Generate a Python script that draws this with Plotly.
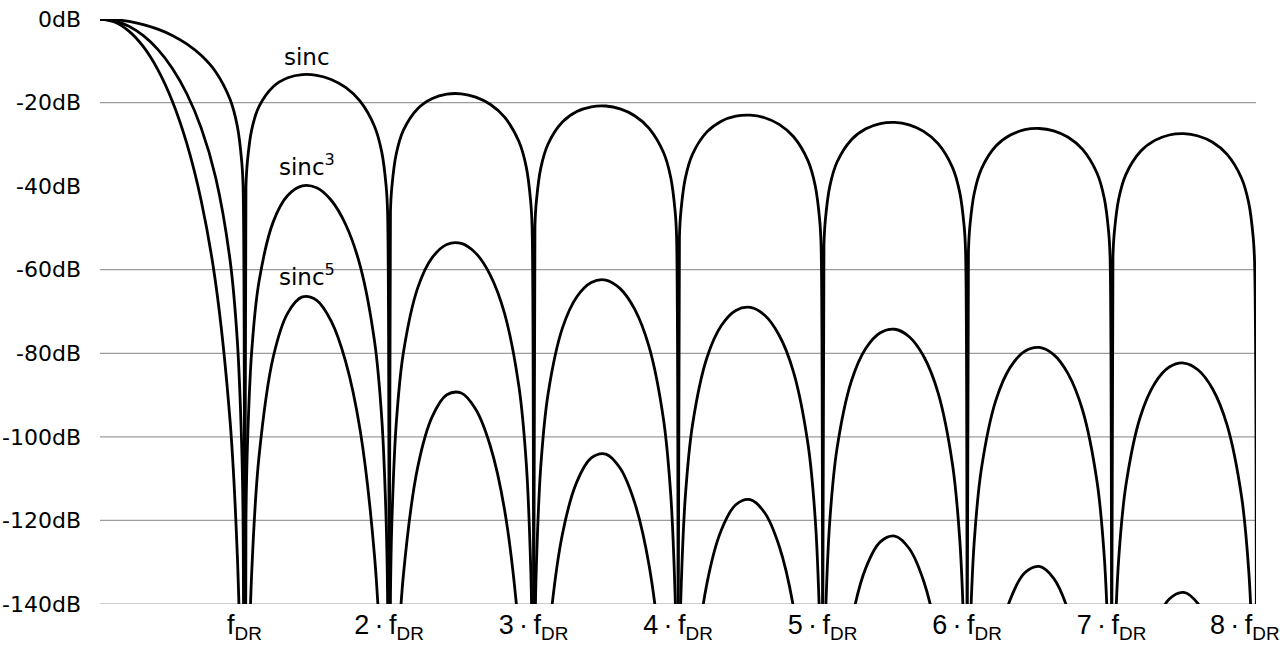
import plotly.graph_objects as go

# frequency in units of f_DR
X = [0, 0.1, 0.2, 0.3, 0.4, 0.5, 0.6, 0.7, 0.8, 0.9, 0.95, 0.98, 0.99, 1.0,
     1.01, 1.02, 1.05, 1.1, 1.2, 1.3, 1.4, 1.5, 1.6, 1.7, 1.8, 1.9, 1.95, 1.98, 1.99, 2.0,
     2.01, 2.02, 2.05, 2.1, 2.2, 2.3, 2.4, 2.5, 2.6, 2.7, 2.8, 2.9, 2.95, 2.98, 2.99, 3.0,
     3.01, 3.02, 3.05, 3.1, 3.2, 3.3, 3.4, 3.5, 3.6, 3.7, 3.8, 3.9, 3.95, 3.98, 3.99, 4.0,
     4.01, 4.02, 4.05, 4.1, 4.2, 4.3, 4.4, 4.5, 4.6, 4.7, 4.8, 4.9, 4.95, 4.98, 4.99, 5.0,
     5.01, 5.02, 5.05, 5.1, 5.2, 5.3, 5.4, 5.5, 5.6, 5.7, 5.8, 5.9, 5.95, 5.98, 5.99, 6.0,
     6.01, 6.02, 6.05, 6.1, 6.2, 6.3, 6.4, 6.5, 6.6, 6.7, 6.8, 6.9, 6.95, 6.98, 6.99, 7.0,
     7.01, 7.02, 7.05, 7.1, 7.2, 7.3, 7.4, 7.5, 7.6, 7.7, 7.8, 7.9, 7.95, 7.98, 7.99, 8.0]

# magnitude in dB (values below -140 dB fall off the chart)
SINC1 = [0, -0.14, -0.58, -1.33, -2.42, -3.92, -5.94, -8.69, -12.62, -19.23, -25.61, -33.81, -39.91, -300,
         -40.09, -34.16, -26.48, -20.97, -16.14, -14.06, -13.30, -13.47, -14.46, -16.39, -19.67, -25.72, -31.86, -39.92, -45.98, -300,
         -46.07, -40.09, -32.29, -26.59, -21.41, -19.02, -17.98, -17.90, -18.68, -20.41, -23.50, -29.39, -35.45, -43.47, -49.51, -300,
         -49.57, -43.59, -35.74, -29.97, -24.66, -22.15, -21.01, -20.82, -21.51, -23.15, -26.16, -31.96, -37.99, -45.98, -52.02, -300,
         -52.06, -46.07, -38.21, -32.40, -27.02, -24.45, -23.25, -23.01, -23.63, -25.23, -28.18, -33.95, -39.95, -47.93, -53.96, -300,
         -54.00, -48.00, -40.12, -34.29, -28.88, -26.27, -25.03, -24.75, -25.34, -26.90, -29.83, -35.56, -41.55, -49.52, -55.55, -300,
         -55.58, -49.58, -41.69, -35.85, -30.41, -27.77, -26.50, -26.20, -26.77, -28.31, -31.21, -36.92, -42.90, -50.86, -56.89, -300,
         -56.92, -50.91, -43.02, -37.17, -31.71, -29.05, -27.76, -27.44, -28.00, -29.51, -32.40, -38.10, -44.06, -52.03, -58.05, -300]

SINC3 = [0, -0.43, -1.74, -3.98, -7.26, -11.77, -17.83, -26.06, -37.86, -57.68, -76.83, -101.43, -119.74, -300,
         -120.26, -102.47, -79.44, -62.91, -48.43, -42.19, -39.91, -40.40, -43.38, -49.18, -59.00, -77.15, -95.57, -119.75, -137.93, -300,
         -138.20, -120.28, -96.87, -79.76, -64.22, -57.06, -53.95, -53.71, -56.03, -61.23, -70.51, -88.17, -106.36, -130.41, -148.54, -300,
         -148.72, -130.76, -107.23, -89.91, -73.99, -66.46, -63.03, -62.47, -64.52, -69.44, -78.47, -95.89, -113.96, -137.95, -156.06, -300,
         -156.19, -138.21, -114.62, -97.20, -81.07, -73.36, -69.74, -69.02, -70.90, -75.68, -84.55, -101.84, -119.84, -143.79, -161.89, -300,
         -161.99, -144.00, -120.37, -102.88, -86.64, -78.81, -75.08, -74.25, -76.03, -80.71, -89.48, -106.68, -124.64, -148.56, -166.65, -300,
         -166.74, -148.73, -125.07, -107.55, -91.22, -83.31, -79.51, -78.60, -80.31, -84.92, -93.63, -110.76, -128.69, -152.59, -170.67, -300,
         -170.75, -152.74, -129.06, -111.50, -95.12, -87.15, -83.29, -82.33, -83.99, -88.54, -97.20, -114.29, -132.19, -156.08, -174.16, -300]

SINC5 = [0, -0.72, -2.90, -6.63, -12.10, -19.61, -29.71, -43.43, -63.11, -96.14, -128.06, -169.05, -199.57, -300,
         -200.4, -170.8, -132.40, -104.86, -80.72, -70.32, -66.51, -67.33, -72.31, -81.97, -98.33, -128.59, -159.29, -199.6, -229.9, -300,
         -230.3, -200.5, -161.46, -132.94, -107.04, -95.10, -89.92, -89.51, -93.39, -102.06, -117.51, -146.96, -177.26, -217.3, -247.6, -300,
         -247.9, -217.9, -178.71, -149.85, -123.31, -110.77, -105.05, -104.12, -107.53, -115.74, -130.78, -159.82, -189.94, -229.9, -260.1, -300,
         -260.3, -230.4, -191.03, -162.00, -135.12, -122.27, -116.24, -115.04, -118.17, -126.13, -140.92, -169.74, -199.74, -239.7, -269.8, -300,
         -270.0, -240.0, -200.61, -171.47, -144.40, -131.35, -125.14, -123.75, -126.72, -134.51, -149.14, -177.80, -207.73, -247.6, -277.8, -300,
         -277.9, -247.9, -208.46, -179.25, -152.04, -138.86, -132.52, -131.01, -133.85, -141.53, -156.05, -184.60, -214.48, -254.3, -284.5, -300,
         -284.6, -254.6, -215.10, -185.84, -158.53, -145.25, -138.82, -137.22, -139.98, -147.57, -162.01, -190.48, -220.32, -260.1, -290.3, -300]

X_TICKS = [1, 2, 3, 4, 5, 6, 7, 8]
X_LABELS = ["f<sub>DR</sub>", "2\u2009·\u2009f<sub>DR</sub>", "3\u2009·\u2009f<sub>DR</sub>",
            "4\u2009·\u2009f<sub>DR</sub>", "5\u2009·\u2009f<sub>DR</sub>", "6\u2009·\u2009f<sub>DR</sub>",
            "7\u2009·\u2009f<sub>DR</sub>", "8\u2009·\u2009f<sub>DR</sub>\u00a0\u00a0\u00a0"]
Y_TICKS = [0, -20, -40, -60, -80, -100, -120, -140]
Y_LABELS = ["0dB", "-20dB", "-40dB", "-60dB", "-80dB", "-100dB", "-120dB", "-140dB"]
GRID_DB = [-20, -60, -80, -100, -120, -140]

LABELS = ["sinc", "sinc<sup>3</sup>", "sinc<sup>5</sup>"]
LABEL_X = [1.43, 1.43, 1.43]
LABEL_Y = [-12.6, -39.0, -65.3]

fig = go.Figure()
for name, ys in [("sinc", SINC1), ("sinc3", SINC3), ("sinc5", SINC5)]:
    fig.add_trace(go.Scatter(x=X, y=ys, mode="lines", name=name,
                             line=dict(color="black", width=2.8, shape="spline", smoothing=1),
                             hoverinfo="skip", showlegend=False))

for g in GRID_DB:
    fig.add_shape(type="line", xref="x", yref="y", x0=0, x1=8, y0=g, y1=g,
                  line=dict(color="#9c9c9c", width=1.2), layer="below")

for t, lx, ly in zip(LABELS, LABEL_X, LABEL_Y):
    fig.add_annotation(x=lx, y=ly, text=t, showarrow=False, xanchor="center", yanchor="bottom",
                       font=dict(family="DejaVu Sans", size=23, color="black"))

fig.update_layout(
    width=1280, height=652,
    margin=dict(l=100, r=24, t=19, b=48),
    paper_bgcolor="white", plot_bgcolor="white",
    xaxis=dict(range=[0, 8], tickvals=X_TICKS, ticktext=X_LABELS, showgrid=False, zeroline=False,
               showline=False, ticks="", ticklabelstandoff=2, ticklabeloverflow="allow",
               tickfont=dict(family="Liberation Sans, Arial", size=27, color="black"),
               automargin=False, fixedrange=True),
    yaxis=dict(range=[-140, 0], tickvals=Y_TICKS, ticktext=Y_LABELS, showgrid=False, zeroline=False,
               showline=False, ticks="", ticklabelstandoff=18, ticklabeloverflow="allow",
               tickfont=dict(family="DejaVu Sans", size=22, color="black"),
               automargin=False, fixedrange=True),
)

# remove the page's default body margin so the 1280x652 figure fills the window exactly
fig.write_html("out.html", config={"displayModeBar": False},
               post_script="document.body.style.margin='0';document.body.style.padding='0';"
                           "document.body.style.overflow='hidden';")
